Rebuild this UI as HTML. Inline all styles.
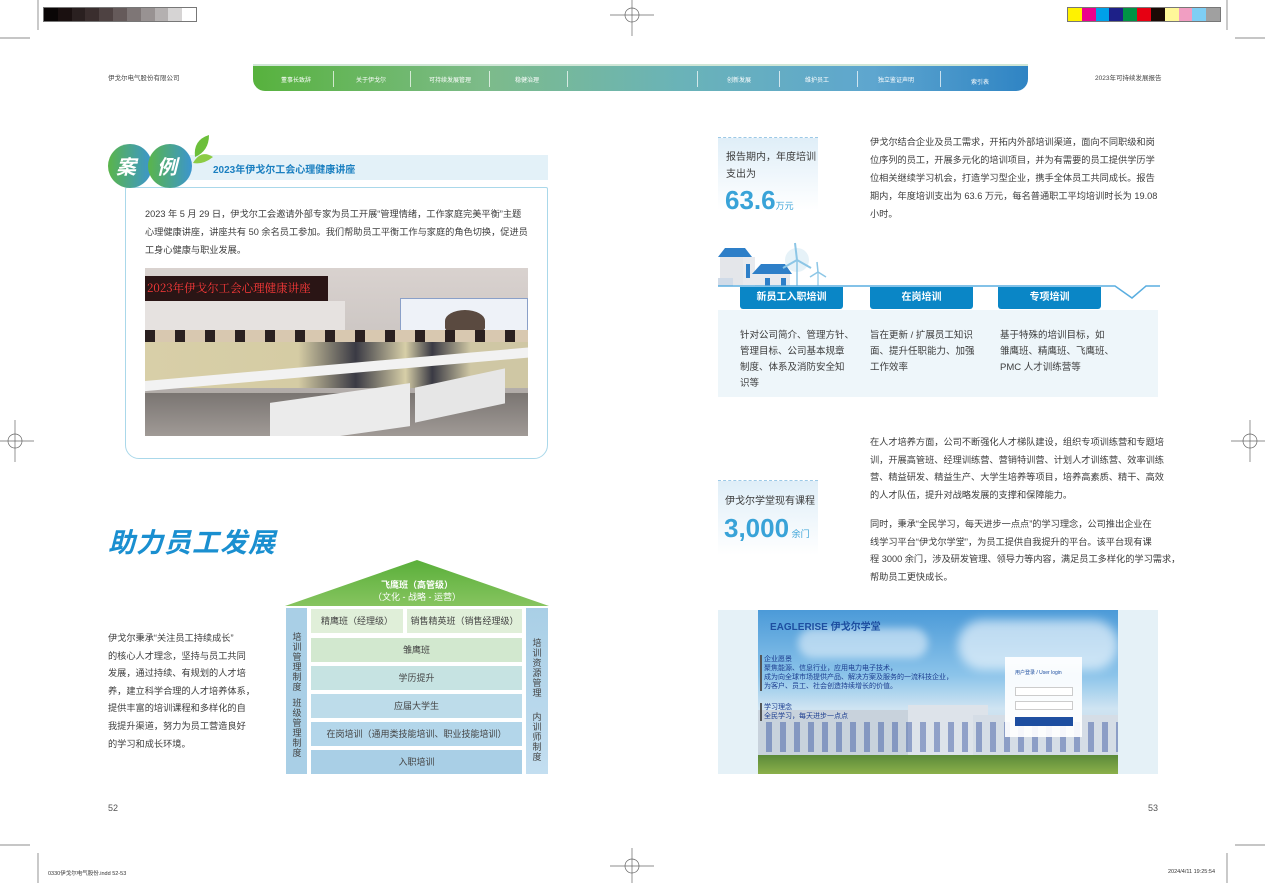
<!DOCTYPE html>
<html><head><meta charset="utf-8">
<style>
*{margin:0;padding:0;box-sizing:border-box}
body{width:1265px;height:883px;background:#fff;position:relative;overflow:hidden;font-family:"Liberation Sans","Noto Sans CJK SC",sans-serif;color:#3a3a3a}
.a{position:absolute}
.t{position:absolute;font-size:9.2px;line-height:18px;color:#3c3c3c;white-space:nowrap}
.nav span{position:absolute;top:9px;font-size:6px;color:#fff;white-space:nowrap}
.nav i{position:absolute;top:5px;width:1px;height:16px;background:rgba(255,255,255,.7)}
.row{position:absolute;left:311px;width:211px;height:24px;font-size:9px;line-height:24px;text-align:center;color:#444}
.tab{position:absolute;top:287px;width:103px;height:22px;background:#0a86c6;color:#fff;font-weight:bold;font-size:10px;line-height:22px;text-align:center;border-radius:0 0 3px 3px}
.vt{position:absolute;font-size:9px;line-height:10px;width:10px;color:#444;text-align:center}
</style></head><body>

<div class="a" style="left:43px;top:7px;width:154px;height:15px;display:flex;border:1px solid #777">
<div style="flex:1;background:#0a0606"></div><div style="flex:1;background:#1a1010"></div><div style="flex:1;background:#2a2020"></div><div style="flex:1;background:#3a2e2e"></div><div style="flex:1;background:#4e4242"></div><div style="flex:1;background:#655a5a"></div><div style="flex:1;background:#7e7676"></div><div style="flex:1;background:#989292"></div><div style="flex:1;background:#b4b0b0"></div><div style="flex:1;background:#d6d4d4"></div><div style="flex:1;background:#fff"></div></div>
<div class="a" style="left:1067px;top:7px;width:154px;height:15px;display:flex;border:1px solid #777">
<div style="flex:1;background:#fff200"></div><div style="flex:1;background:#ec008c"></div><div style="flex:1;background:#00a0e9"></div><div style="flex:1;background:#1d2088"></div><div style="flex:1;background:#009245"></div><div style="flex:1;background:#e60012"></div><div style="flex:1;background:#1a0a05"></div><div style="flex:1;background:#fff799"></div><div style="flex:1;background:#f19ec2"></div><div style="flex:1;background:#7ecef4"></div><div style="flex:1;background:#a0a0a0"></div></div>
<svg class="a" style="left:0;top:0" width="1265" height="883" stroke="#666" stroke-width="0.7" fill="none">
<circle cx="632" cy="15" r="7"/><line x1="610" y1="15" x2="654" y2="15"/><line x1="632" y1="0" x2="632" y2="36"/>
<circle cx="632" cy="866" r="7"/><line x1="610" y1="866" x2="654" y2="866"/><line x1="632" y1="848" x2="632" y2="883"/>
<circle cx="15" cy="441" r="7"/><line x1="0" y1="441" x2="34" y2="441"/><line x1="15" y1="420" x2="15" y2="462"/>
<circle cx="1250" cy="441" r="7"/><line x1="1231" y1="441" x2="1265" y2="441"/><line x1="1250" y1="420" x2="1250" y2="462"/>
<line x1="38" y1="0" x2="38" y2="30"/><line x1="0" y1="38" x2="30" y2="38"/>
<line x1="1227" y1="0" x2="1227" y2="30"/><line x1="1235" y1="38" x2="1265" y2="38"/>
<line x1="38" y1="853" x2="38" y2="883"/><line x1="0" y1="845" x2="30" y2="845"/>
<line x1="1227" y1="853" x2="1227" y2="883"/><line x1="1235" y1="845" x2="1265" y2="845"/>
</svg>

<div class="a" style="left:108px;top:72px;font-size:6.5px;color:#444">伊戈尔电气股份有限公司</div>
<div class="a" style="left:1095px;top:72px;font-size:6.5px;color:#444">2023年可持续发展报告</div>
<div class="a nav" style="left:253px;top:64px;width:775px;height:27px;border-radius:0 0 12px 12px;background:linear-gradient(90deg,#57b23d 0%,#7dbb8a 30%,#6ab3b8 55%,#5ea6cf 80%,#2f84c4 100%);border-top:2px solid #cfe6d6">
<span style="left:28px">董事长致辞</span><i style="left:80px"></i>
<span style="left:103px">关于伊戈尔</span><i style="left:157px"></i>
<span style="left:176px">可持续发展管理</span><i style="left:236px"></i>
<span style="left:262px">稳健治理</span><i style="left:314px"></i>
<i style="left:444px"></i>
<span style="left:474px">创新发展</span><i style="left:526px"></i>
<span style="left:552px">维护员工</span><i style="left:604px"></i>
<span style="left:625px">独立鉴证声明</span><i style="left:687px"></i>
<span style="left:718px;top:11px">索引表</span>
</div>

<div class="a" style="left:185px;top:155px;width:363px;height:25px;background:#e3f1f8"></div>
<div class="a" style="left:213px;top:161px;font-size:10px;font-weight:bold;color:#1a7fc0">2023年伊戈尔工会心理健康讲座</div>
<div class="a" style="left:125px;top:187px;width:423px;height:272px;border:1.5px solid #aad8ea;border-radius:2px 2px 14px 14px"></div>
<svg class="a" style="left:105px;top:135px" width="110" height="55">
<defs><linearGradient id="cg" x1="0" x2="1"><stop offset="0" stop-color="#5ab54a"/><stop offset="1" stop-color="#3b95cf"/></linearGradient></defs>
<path d="M90 22 Q88 5 104 0 Q104 16 90 22Z" fill="#6cbf3a"/><path d="M88 28 Q96 14 108 22 Q98 30 88 28Z" fill="#8ccc45"/>
<circle cx="25" cy="31" r="22" fill="url(#cg)"/><circle cx="65" cy="31" r="22" fill="url(#cg)"/>
<text x="11" y="39" font-size="20" font-style="italic" font-weight="bold" fill="#fff" font-family="Noto Sans CJK SC">案</text>
<text x="52" y="39" font-size="20" font-style="italic" font-weight="bold" fill="#fff" font-family="Noto Sans CJK SC">例</text>
</svg>
<div class="t" style="left:145px;top:205px;font-size:9.2px">2023 年 5 月 29 日，伊戈尔工会邀请外部专家为员工开展“管理情绪，工作家庭完美平衡”主题<br>心理健康讲座，讲座共有 50 余名员工参加。我们帮助员工平衡工作与家庭的角色切换，促进员<br>工身心健康与职业发展。</div>
<div class="a" style="left:145px;top:268px;width:383px;height:168px;overflow:hidden;background:linear-gradient(180deg,#d9d2cf 0%,#cbc5c2 45%,#9a9592 100%)">
<div class="a" style="left:0;top:8px;width:183px;height:25px;background:#2a1515"></div>
<div class="a" style="left:2px;top:12px;font-size:11.5px;color:#ff3a3a;font-family:'Noto Serif CJK SC',serif;white-space:nowrap">2023年伊戈尔工会心理健康讲座</div>
<div class="a" style="left:0;top:33px;width:200px;height:45px;background:#e6e2e0"></div>
<div class="a" style="left:255px;top:30px;width:128px;height:50px;background:#eef2f8;border:1px solid #8aa0c8"></div>
<div class="a" style="left:300px;top:42px;width:40px;height:22px;background:#5a4a40;border-radius:50% 50% 20% 20%"></div>
<div class="a" style="left:0;top:70px;width:383px;height:50px;background:linear-gradient(90deg,#d8cfa8,#d5cca4 40%,#3a3a44 55%,#d7cfa8 68%,#3a3a44 75%,#cfc7a4 85%)"></div>
<div class="a" style="left:0;top:62px;width:383px;height:12px;background:repeating-linear-gradient(90deg,#2a2020 0 10px,#d8c8b0 10px 30px)"></div>
<div class="a" style="left:-20px;top:96px;width:430px;height:10px;background:#f2f2f2;transform:rotate(-5deg)"></div>
<div class="a" style="left:0;top:125px;width:383px;height:43px;background:linear-gradient(180deg,#7a7572,#a09a96)"></div>
<div class="a" style="left:125px;top:125px;width:140px;height:43px;background:#ebebeb;transform:skewY(-8deg)"></div>
<div class="a" style="left:270px;top:110px;width:90px;height:35px;background:#e6e6e6;transform:skewY(-12deg)"></div>
</div>

<div class="a" style="left:108px;top:521px;font-size:27px;font-weight:bold;font-style:italic;color:#1a8fd0;letter-spacing:1px;font-family:'Noto Sans CJK SC',sans-serif">助力员工发展</div>
<div class="t" style="left:108px;top:630px;line-height:17.6px;font-size:9.2px">伊戈尔秉承“关注员工持续成长”<br>的核心人才理念，坚持与员工共同<br>发展，通过持续、有规划的人才培<br>养，建立科学合理的人才培养体系，<br>提供丰富的培训课程和多样化的自<br>我提升渠道，努力为员工营造良好<br>的学习和成长环境。</div>

<svg class="a" style="left:284px;top:558px" width="266" height="50">
<defs><linearGradient id="rg" x1="0" y1="0" x2="0" y2="1"><stop offset="0" stop-color="#5aaf3a"/><stop offset="1" stop-color="#86c45f"/></linearGradient></defs>
<polygon points="1,48 133,2 265,48" fill="url(#rg)"/></svg>
<div class="a" style="left:284px;top:579px;width:266px;text-align:center;color:#fff;font-size:9px;line-height:12px;font-weight:bold">飞鹰班（高管级）<br><span style="font-weight:normal">（文化 - 战略 - 运营）</span></div>
<div class="a" style="left:286px;top:608px;width:21px;height:166px;background:#a9cfe6"></div>
<div class="a" style="left:526px;top:608px;width:22px;height:166px;background:linear-gradient(180deg,#a9cfe6,#c3def0)"></div>
<div class="vt" style="left:292px;top:632px">培训管理制度</div>
<div class="vt" style="left:292px;top:698px">班级管理制度</div>
<div class="vt" style="left:532px;top:638px">培训资源管理</div>
<div class="vt" style="left:532px;top:712px">内训师制度</div>
<div class="row" style="top:609px;width:92px;background:#e0efd9">精鹰班（经理级）</div>
<div class="row" style="top:609px;left:407px;width:115px;background:#e0efd9">销售精英班（销售经理级）</div>
<div class="row" style="top:638px;background:#d2e8cf">雏鹰班</div>
<div class="row" style="top:666px;background:#c6e3e2">学历提升</div>
<div class="row" style="top:694px;background:#bddcea">应届大学生</div>
<div class="row" style="top:722px;background:#b3d6ea">在岗培训（通用类技能培训、职业技能培训）</div>
<div class="row" style="top:750px;background:#a9cfe6">入职培训</div>

<div class="a" style="left:718px;top:137px;width:100px;height:73px;background:linear-gradient(180deg,#dfeef8,#fff);border-top:1px dashed #9cc9e6"></div>
<div class="t" style="left:726px;top:149px;font-size:10px;line-height:17px">报告期内，年度培训<br>支出为</div>
<div class="a" style="left:725px;top:185px;font-size:26px;font-weight:bold;color:#39a3d8">63.6<span style="font-size:9px;font-weight:normal">万元</span></div>
<div class="t" style="left:870px;top:133px">伊戈尔结合企业及员工需求，开拓内外部培训渠道，面向不同职级和岗<br>位序列的员工，开展多元化的培训项目，并为有需要的员工提供学历学<br>位相关继续学习机会，打造学习型企业，携手全体员工共同成长。报告<br>期内，年度培训支出为 63.6 万元，每名普通职工平均培训时长为 19.08<br>小时。</div>

<svg class="a" style="left:715px;top:240px" width="450" height="62" fill="none">
<rect x="5" y="15" width="28" height="30" fill="#e4e6ea"/><polygon points="3,17 10,8 30,8 37,17" fill="#2e7fc8"/>
<rect x="28" y="17" width="12" height="28" fill="#e8eaee"/><rect x="31" y="24" width="4" height="14" fill="#2e7fc8"/>
<rect x="40" y="33" width="35" height="13" fill="#e8eaee"/><polygon points="37,34 46,24 70,24 77,34" fill="#2e7fc8"/>
<rect x="50" y="38" width="5" height="8" fill="#2e7fc8"/><rect x="66" y="38" width="5" height="8" fill="#2e7fc8"/>
<rect x="3" y="38" width="15" height="8" fill="#d0dbe8"/>
<circle cx="82" cy="20" r="12" fill="#e6f2f8"/>
<line x1="82" y1="20" x2="82" y2="46" stroke="#8cc6e6" stroke-width="1.5"/><line x1="82" y1="20" x2="80" y2="3" stroke="#8cc6e6" stroke-width="2"/><line x1="82" y1="20" x2="68" y2="28" stroke="#8cc6e6" stroke-width="2"/><line x1="82" y1="20" x2="96" y2="28" stroke="#8cc6e6" stroke-width="2"/>
<line x1="103" y1="32" x2="103" y2="46" stroke="#8cc6e6" stroke-width="1.2"/><line x1="103" y1="32" x2="102" y2="22" stroke="#8cc6e6" stroke-width="1.5"/><line x1="103" y1="32" x2="95" y2="37" stroke="#8cc6e6" stroke-width="1.5"/><line x1="103" y1="32" x2="111" y2="37" stroke="#8cc6e6" stroke-width="1.5"/>
<polyline points="3,46 400,46 417,58 431,46 445,46" stroke="#5aaee0" stroke-width="1.5"/>
</svg>
<div class="tab" style="left:740px">新员工入职培训</div>
<div class="tab" style="left:870px">在岗培训</div>
<div class="tab" style="left:998px">专项培训</div>
<div class="a" style="left:718px;top:310px;width:440px;height:87px;background:#eef6fa"></div>
<div class="t" style="left:740px;top:328px;font-size:9.5px;line-height:16px">针对公司简介、管理方针、<br>管理目标、公司基本规章<br>制度、体系及消防安全知<br>识等</div>
<div class="t" style="left:870px;top:328px;font-size:9.5px;line-height:16px">旨在更新 / 扩展员工知识<br>面、提升任职能力、加强<br>工作效率</div>
<div class="t" style="left:1000px;top:328px;font-size:9.5px;line-height:16px">基于特殊的培训目标，如<br>雏鹰班、精鹰班、飞鹰班、<br>PMC 人才训练营等</div>

<div class="a" style="left:718px;top:480px;width:100px;height:75px;background:linear-gradient(180deg,#dfeef8,#fff);border-top:1px dashed #9cc9e6"></div>
<div class="t" style="left:725px;top:493px;font-size:10px">伊戈尔学堂现有课程</div>
<div class="a" style="left:724px;top:513px;font-size:26px;font-weight:bold;color:#39a3d8">3,000<span style="font-size:9px;font-weight:normal"> 余门</span></div>
<div class="t" style="left:870px;top:434px;line-height:17.6px">在人才培养方面，公司不断强化人才梯队建设，组织专项训练营和专题培<br>训，开展高管班、经理训练营、营销特训营、计划人才训练营、效率训练<br>营、精益研发、精益生产、大学生培养等项目，培养高素质、精干、高效<br>的人才队伍，提升对战略发展的支撑和保障能力。</div>
<div class="t" style="left:870px;top:516px;line-height:17.6px">同时，秉承“全民学习，每天进步一点点”的学习理念，公司推出企业在<br>线学习平台“伊戈尔学堂”，为员工提供自我提升的平台。该平台现有课<br>程 3000 余门，涉及研发管理、领导力等内容，满足员工多样化的学习需求，<br>帮助员工更快成长。</div>

<div class="a" style="left:718px;top:610px;width:440px;height:164px;background:#e5f1f7"></div>
<div class="a" style="left:758px;top:610px;width:360px;height:164px;overflow:hidden;background:linear-gradient(180deg,#4b9ad8 0%,#8cc4ea 40%,#cfe4f2 60%,#b9cfe0 100%)">
<div class="a" style="left:40px;top:18px;width:130px;height:30px;background:rgba(255,255,255,.5);border-radius:20px;filter:blur(4px)"></div>
<div class="a" style="left:200px;top:10px;width:160px;height:50px;background:rgba(255,255,255,.6);border-radius:30px;filter:blur(5px)"></div>
<div class="a" style="left:0;top:100px;width:150px;height:64px;background:#c8d2dc"></div>
<div class="a" style="left:150px;top:95px;width:80px;height:69px;background:#dde3ea"></div>
<div class="a" style="left:215px;top:105px;width:145px;height:59px;background:#d5dde6"></div>
<div class="a" style="left:0;top:112px;width:360px;height:30px;background:repeating-linear-gradient(90deg,transparent 0 8px,rgba(50,80,160,.45) 8px 14px)"></div>
<div class="a" style="left:0;top:145px;width:360px;height:19px;background:linear-gradient(180deg,#5b8a3a,#8bb04a)"></div>
<div class="a" style="left:12px;top:8px;font-size:10px;font-weight:bold;color:#1d4ea0;white-space:nowrap">EAGLERISE 伊戈尔学堂</div>
<div class="a" style="left:2px;top:45px;font-size:7px;line-height:9px;color:#1d3e90;white-space:nowrap;border-left:2px solid #555;padding-left:2px">企业愿景<br>聚焦能源、信息行业，应用电力电子技术，<br>成为向全球市场提供产品、解决方案及服务的一流科技企业，<br>为客户、员工、社会创造持续增长的价值。</div>
<div class="a" style="left:2px;top:93px;font-size:7px;line-height:9px;color:#1d3e90;white-space:nowrap;border-left:2px solid #555;padding-left:2px">学习理念<br>全民学习，每天进步一点点</div>
<div class="a" style="left:247px;top:47px;width:77px;height:80px;background:rgba(255,255,255,.92)">
<div class="a" style="left:10px;top:12px;font-size:5px;color:#1d4ea0;white-space:nowrap">用户登录 / User login</div>
<div class="a" style="left:10px;top:30px;width:58px;height:9px;border:1px solid #ccc;background:#fff"></div>
<div class="a" style="left:10px;top:44px;width:58px;height:9px;border:1px solid #ccc;background:#fff"></div>
<div class="a" style="left:10px;top:60px;width:58px;height:9px;background:#1d4ea0"></div>
</div>
</div>

<div class="a" style="left:108px;top:803px;font-size:9px;color:#555">52</div>
<div class="a" style="left:1148px;top:803px;font-size:9px;color:#555">53</div>
<div class="a" style="left:48px;top:869px;font-size:5.5px;color:#333">0330伊戈尔电气股份.indd 52-53</div>
<div class="a" style="left:1168px;top:869px;font-size:5.5px;color:#333">2024/4/11 19:25:54</div>
</body></html>
